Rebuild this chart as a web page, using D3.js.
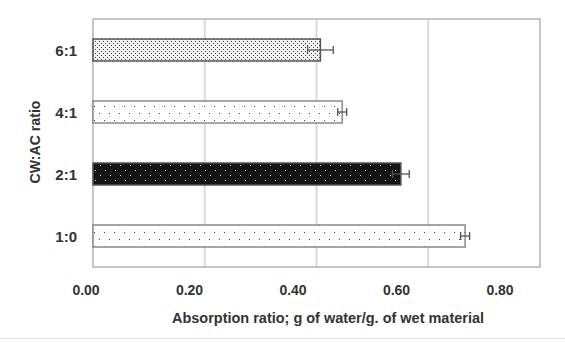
<!DOCTYPE html>
<html>
<head>
<meta charset="utf-8">
<script src="https://cdn.jsdelivr.net/npm/d3@7"></script>
<style>
  body { margin: 0; background: #fff; }
  svg text { font-family: "Liberation Sans Narrow", "Arial Narrow", "Liberation Sans", sans-serif; font-weight: bold; fill: #333; }
</style>
</head>
<body>
<div id="chart"></div>
<script>
// data, bottom to top
let ratios = ['1:0', '2:1', '4:1', '6:1'];
let absorption = [0.666, 0.551, 0.446, 0.407];
let errors = [0.008, 0.015, 0.008, 0.023];
let patterns = ['sparse', 'dark', 'sparse', 'dense'];
let xTicks = [0, 0.2, 0.4, 0.6, 0.8];

let W = 565, H = 342;
let margin = {top: 19, right: 25, bottom: 75, left: 93};
let width = W - margin.left - margin.right;
let height = H - margin.top - margin.bottom;

let svg = d3.select('#chart')
  .append('svg')
    .attr('width', W)
    .attr('height', H);

// fill patterns
let defs = svg.append('defs');
let dense = defs.append('pattern').attr('id', 'dense')
  .attr('patternUnits', 'userSpaceOnUse').attr('width', 4).attr('height', 4);
dense.append('rect').attr('width', 4).attr('height', 4).attr('fill', '#f4f4f4');
dense.append('rect').attr('x', 0).attr('y', 0).attr('width', 1).attr('height', 1).attr('fill', '#333');
dense.append('rect').attr('x', 2).attr('y', 2).attr('width', 1).attr('height', 1).attr('fill', '#333');

let sparse = defs.append('pattern').attr('id', 'sparse')
  .attr('patternUnits', 'userSpaceOnUse').attr('width', 10).attr('height', 14);
sparse.append('rect').attr('width', 10).attr('height', 14).attr('fill', '#fff');
sparse.append('rect').attr('x', 1).attr('y', 3).attr('width', 1).attr('height', 1).attr('fill', '#444');
sparse.append('rect').attr('x', 6).attr('y', 10).attr('width', 1).attr('height', 1).attr('fill', '#444');

let dark = defs.append('pattern').attr('id', 'dark')
  .attr('patternUnits', 'userSpaceOnUse').attr('width', 10).attr('height', 10);
dark.append('rect').attr('width', 10).attr('height', 10).attr('fill', '#141414');
dark.append('rect').attr('x', 2).attr('y', 1).attr('width', 1).attr('height', 1).attr('fill', '#ddd');
dark.append('rect').attr('x', 7).attr('y', 6).attr('width', 1).attr('height', 1).attr('fill', '#ddd');

let g = svg.append('g')
  .attr('transform', `translate(${margin.left},${margin.top})`);

let x = d3.scaleLinear().domain([0, 0.8]).range([0, width]);
// excel squeezed the tick labels a bit relative to the gridlines
let xLab = d3.scaleLinear().domain([0, 0.8]).range([-7, width - 40]);
let y = d3.scaleBand().domain(ratios.slice().reverse()).range([0, height])
  .paddingInner(0.645).paddingOuter(0.3225);

// gridlines
g.selectAll('.grid')
  .data(xTicks.slice(1, -1))
  .enter().append('line')
    .attr('class', 'grid')
    .attr('x1', d => x(d)).attr('x2', d => x(d))
    .attr('y1', 0).attr('y2', height)
    .style('stroke', '#dadada')
    .style('stroke-width', 2);

// frame
g.append('rect')
  .attr('width', width).attr('height', height)
  .style('fill', 'none')
  .style('stroke', '#b5b5b5')
  .style('stroke-width', 1.5);

let rows = ratios.map((r, i) => ({ratio: r, value: absorption[i], err: errors[i], pat: patterns[i]}));

g.selectAll('.bar')
  .data(rows)
  .enter().append('rect')
    .attr('class', 'bar')
    .attr('x', 0)
    .attr('y', d => y(d.ratio))
    .attr('width', d => x(d.value))
    .attr('height', y.bandwidth())
    .style('fill', d => `url(#${d.pat})`)
    .style('stroke', d => d.pat === 'sparse' ? '#8a8a8a' : '#555')
    .style('stroke-width', 1.5);

// error bars
let eb = g.selectAll('.err')
  .data(rows)
  .enter().append('g')
    .attr('class', 'err')
    .attr('transform', d => `translate(0,${y(d.ratio) + y.bandwidth() / 2})`);
eb.append('line')
  .attr('x1', d => x(d.value - d.err)).attr('x2', d => x(d.value + d.err))
  .style('stroke', '#555').style('stroke-width', 1.3);
eb.append('line')
  .attr('x1', d => x(d.value - d.err)).attr('x2', d => x(d.value - d.err))
  .attr('y1', -4).attr('y2', 4)
  .style('stroke', '#555').style('stroke-width', 1.3);
eb.append('line')
  .attr('x1', d => x(d.value + d.err)).attr('x2', d => x(d.value + d.err))
  .attr('y1', -4).attr('y2', 4)
  .style('stroke', '#555').style('stroke-width', 1.3);

// axis labels
g.selectAll('.ylab')
  .data(ratios)
  .enter().append('text')
    .attr('class', 'ylab')
    .attr('x', -16)
    .attr('y', d => y(d) + y.bandwidth() / 2 + 1)
    .attr('dy', '0.35em')
    .attr('text-anchor', 'end')
    .style('font-size', '15px')
    .text(d => d);

g.selectAll('.xlab')
  .data(xTicks)
  .enter().append('text')
    .attr('class', 'xlab')
    .attr('x', d => xLab(d))
    .attr('y', height + 28)
    .attr('text-anchor', 'middle')
    .style('font-size', '14px')
    .text(d => d.toFixed(2));

svg.append('text')
  .attr('x', 328)
  .attr('y', 323)
  .attr('text-anchor', 'middle')
  .attr('textLength', 312)
  .attr('lengthAdjust', 'spacingAndGlyphs')
  .style('font-size', '14.5px')
  .text('Absorption ratio; g of water/g. of wet material');

svg.append('text')
  .attr('transform', 'translate(40,142) rotate(-90)')
  .attr('text-anchor', 'middle')
  .attr('textLength', 83)
  .attr('lengthAdjust', 'spacingAndGlyphs')
  .style('font-size', '15px')
  .text('CW:AC ratio');

svg.append('line')
  .attr('x1', 0).attr('x2', W)
  .attr('y1', 338.5).attr('y2', 338.5)
  .style('stroke', '#e2e2e2')
  .style('stroke-width', 1);
</script>
</body>
</html>
